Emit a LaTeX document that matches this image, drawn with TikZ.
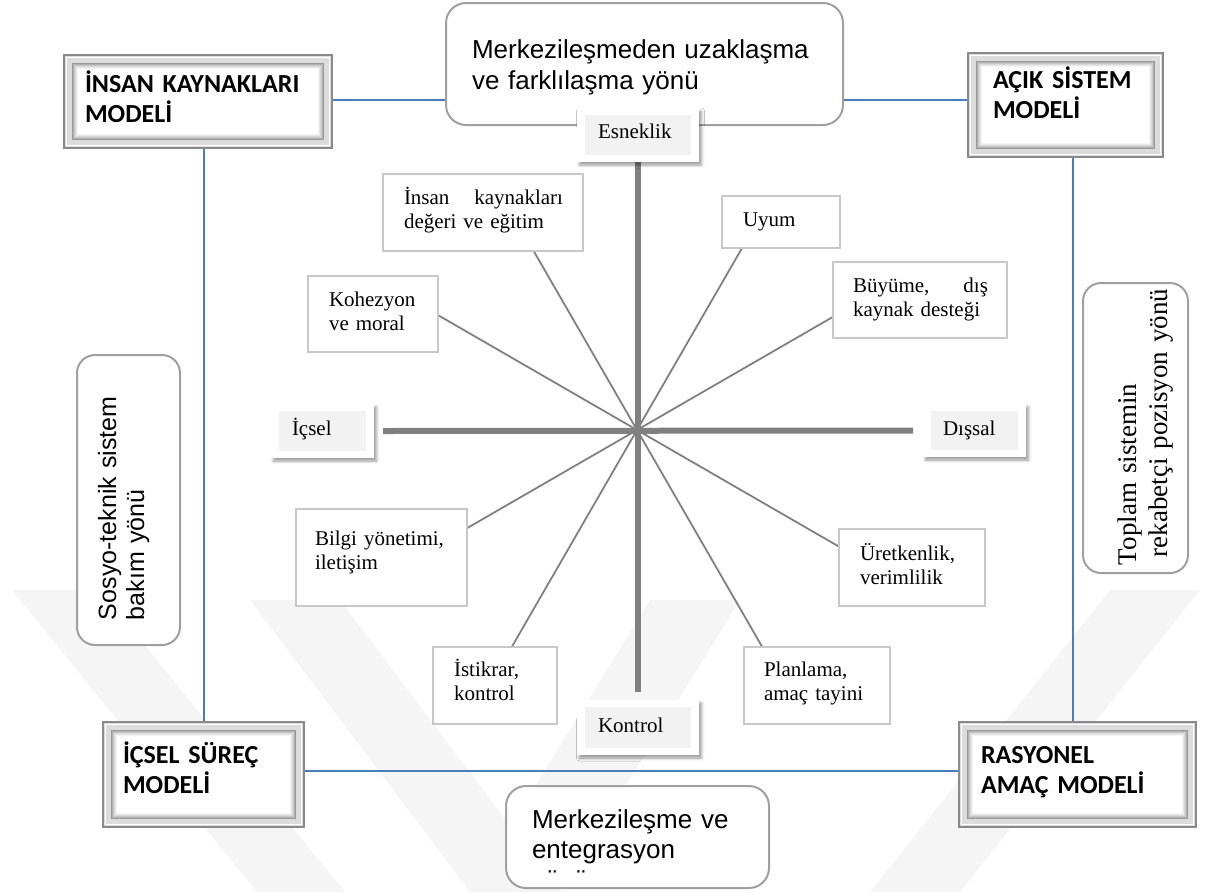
\documentclass[tikz,border=0pt]{standalone}
\usepackage{fontspec}
\setmainfont{Liberation Serif}
\newfontfamily\arialfont{Liberation Sans}
\newfontfamily\calibrifont{Carlito}
\usetikzlibrary{fit,backgrounds,intersections,shadows.blur}

\definecolor{linkblue}{HTML}{4A7EBB}
\definecolor{axisgray}{HTML}{808080}
\definecolor{boxline}{HTML}{C8C8C8}
\definecolor{roundline}{HTML}{A0A0A0}
\definecolor{tagfill}{HTML}{F2F2F2}
\definecolor{markgray}{HTML}{F5F5F5}
\definecolor{bevdark}{HTML}{8A8A8A}
\definecolor{bevband}{HTML}{DCDCDC}

\begin{document}
\begin{tikzpicture}[x=1pt,y=-1pt,
  every node/.style={inner sep=0pt,outer sep=0pt},
  link/.style={draw=linkblue,line width=2pt},
  axisline/.style={draw=axisgray,line width=6pt},
  spoke/.style={draw=axisgray,line width=1.8pt},
  itembox/.style={rectangle,draw=boxline,line width=1.4pt,fill=white},
  itemtext/.style={anchor=base west,text width=#1,align=left,font=\fontsize{21}{24}\selectfont},
  itemtext/.default=170pt,
  tagbox/.style={rectangle,fill=white,
    blur shadow={shadow xshift=2.5pt,shadow yshift=-3pt,shadow blur radius=3pt,shadow opacity=40},
    path picture={\fill[tagfill] ([shift={(8pt,-7pt)}]path picture bounding box.north west)
      rectangle ([shift={(-8pt,7pt)}]path picture bounding box.south east);}},
  tagtext/.style={anchor=base west,font=\fontsize{21}{24}\selectfont},
  roundbox/.style={rectangle,rounded corners=20pt,draw=roundline,line width=2pt,fill=white},
  dirtext/.style={anchor=base west,text width=#1,align=left,font=\arialfont\fontsize{26}{30}\selectfont},
  modelbox/.style={rectangle,draw=bevdark,line width=1.5pt,fill=bevband,
    path picture={
      \draw[white,line width=1.5pt] ([shift={(2.5pt,-2.5pt)}]path picture bounding box.north west)
        rectangle ([shift={(-2.5pt,2.5pt)}]path picture bounding box.south east);
      \foreach \k/\c in {8/40,9/30,10/22,11/15,12/9,13/4,14/0}{
        \fill[black!\c] ([shift={(\k pt,-\k pt)}]path picture bounding box.north west)
          rectangle ([shift={(-\k pt,\k pt)}]path picture bounding box.south east);}
    }},
  modeltext/.style={anchor=base west,text width=250pt,align=left,
    font=\calibrifont\bfseries\fontsize{26}{30}\selectfont},
]
\path[use as bounding box] (0,0) rectangle (1206,892);

% guide rails of the blue frame
\coordinate (railL) at (204,0);
\coordinate (railR) at (1073,0);
\coordinate (railT) at (0,100);
\coordinate (railB) at (0,771);
\coordinate (c) at (637,430);

% four model boxes
\node[modelbox,fit={(64,55) (332,148)}] (hrm) {};
\node[modeltext] (hrm-t) at (85,92) {İNSAN KAYNAKLARI\\MODELİ};
\node[modelbox,fit={(968,53) (1163,157)}] (acik) {};
\node[modeltext] (acik-t) at (993,88) {AÇIK SİSTEM\\MODELİ};
\node[modelbox,fit={(103,722) (304,827)}] (icsel) {};
\node[modeltext] (icsel-t) at (123,763) {İÇSEL SÜREÇ\\MODELİ};
\node[modelbox,fit={(959,722) (1196,827)}] (rasyonel) {};
\node[modeltext] (rasyonel-t) at (981,763) {RASYONEL\\AMAÇ MODELİ};

% direction boxes
\node[roundbox,fit={(446,3) (843,125)}] (topdir) {};
\node[dirtext=360pt,font=\arialfont\fontsize{26}{31}\selectfont] (topdir-t) at (472,58)
  {Merkezileşmeden uzaklaşma\\ve farklılaşma yönü};
\node[roundbox,fit={(506,786) (769,888)}] (botdir) {};
\begin{scope}
  \clip (506,786) rectangle (769,873);
  \node[dirtext=230pt] (botdir-t) at (532,828) {Merkezileşme ve\\entegrasyon\\yönü};
\end{scope}
\node[roundbox,rounded corners=18pt,fit={(77,355) (180,645)}] (leftdir) {};
\node[dirtext=260pt,font=\arialfont\fontsize{25}{28}\selectfont,rotate=90] (leftdir-t) at (116,620)
  {Sosyo-teknik sistem\\bakım yönü};
\node[roundbox,rounded corners=18pt,fit={(1083,283) (1188,573)}] (rightdir) {};
\node[anchor=base west,text width=290pt,align=left,font=\fontsize{27}{31}\selectfont,rotate=90]
  (rightdir-t) at (1136,565) {Toplam sistemin\\\hspace*{8pt}rekabetçi pozisyon yönü};

% axis end labels
\node[tagbox,fit={(577,108) (699,162)}] (esneklik) {};
\node[tagtext] (esneklik-t) at (598,138) {Esneklik};
\node[tagbox,fit={(577,700) (699,755)}] (kontrol) {};
\node[tagtext] (kontrol-t) at (598,732) {Kontrol};
\node[tagbox,fit={(271,404) (374,458)}] (icseltag) {};
\node[tagtext] (icseltag-t) at (292,435) {İçsel};
\node[tagbox,fit={(923,404) (1026,457)}] (dissal) {};
\node[tagtext] (dissal-t) at (943,435) {Dışsal};

% value boxes around the centre
\node[itembox,fit={(383,174) (583,251)}] (insan) {};
\node[itemtext=159pt] (insan-t) at (404,204) {İnsan\hfill kaynakları\\değeri ve eğitim};
\node[itembox,fit={(308,276) (438,352)}] (kohezyon) {};
\node[itemtext] (kohezyon-t) at (329,306) {Kohezyon\\ve moral};
\node[itembox,fit={(722,196) (840,248)}] (uyum) {};
\node[itemtext] (uyum-t) at (743,226) {Uyum};
\node[itembox,fit={(833,262) (1007,338)}] (buyume) {};
\node[itemtext=135pt] (buyume-t) at (853,292) {Büyüme,\hfill dış\\kaynak desteği};
\node[itembox,fit={(296,509) (467,606)}] (bilgi) {};
\node[itemtext] (bilgi-t) at (315,545) {Bilgi yönetimi,\\iletişim};
\node[itembox,fit={(433,647) (557,724)}] (istikrar) {};
\node[itemtext] (istikrar-t) at (454,676) {İstikrar,\\kontrol};
\node[itembox,fit={(744,647) (890,724)}] (planlama) {};
\node[itemtext] (planlama-t) at (764,676) {Planlama,\\amaç tayini};
\node[itembox,fit={(839,529) (985,606)}] (uretkenlik) {};
\node[itemtext] (uretkenlik-t) at (860,560) {Üretkenlik,\\verimlilik};

% faint background bands
\begin{scope}[on background layer]
  \fill[markgray] (12,590) -- (100,590) -- (345,892) -- (257,892) -- cycle;
  \fill[markgray] (250,600) -- (340,600) -- (560,892) -- (470,892) -- cycle;
  \fill[markgray] (650,600) -- (740,600) -- (560,892) -- (470,892) -- cycle;
  \fill[markgray] (1110,590) -- (1200,590) -- (960,892) -- (870,892) -- cycle;
\end{scope}

% blue frame joining the models
\begin{scope}[on background layer]
  \draw[link] (hrm.east |- railT) -- (topdir.west |- railT);
  \draw[link] (topdir.east |- railT) -- (acik.west |- railT);
  \draw[link] (hrm.south -| railL) -- (icsel.north -| railL);
  \draw[link] (acik.south -| railR) -- (rasyonel.north -| railR);
  \draw[link] (icsel.east |- railB) -- (rasyonel.west |- railB);
\end{scope}

% the two axes and the spokes
\begin{scope}[on background layer]
  \draw[axisline] (esneklik.south) -- ([yshift=8pt]kontrol.north);
  \draw[axisline] ([xshift=9pt]icseltag.east) -- ([xshift=-10pt]dissal.west);
  \foreach \b/\a/\p/\q in {insan/120/south west/south east,
      kohezyon/150/north east/south east,
      uyum/60/south west/south east,
      buyume/30/north west/south west,
      bilgi/210/north east/south east,
      istikrar/240/north west/north east,
      planlama/300/north west/north east,
      uretkenlik/330/north west/south west}{
    \path[name path=ray] (c) -- ++(\a:400pt);
    \path[name path=edge] (\b.\p) -- (\b.\q);
    \draw[spoke,name intersections={of=ray and edge}] (c) -- (intersection-1);
  }
\end{scope}
\end{tikzpicture}
\end{document}
